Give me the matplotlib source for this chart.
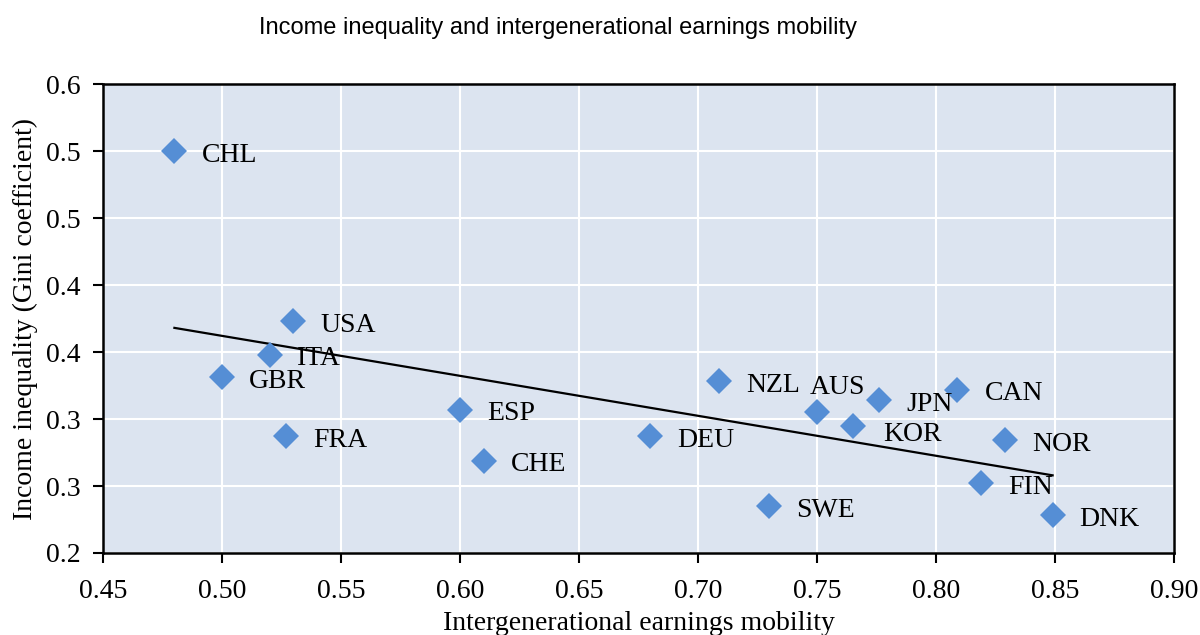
import numpy as np
import matplotlib.pyplot as plt
from matplotlib.ticker import FormatStrFormatter

countries = ['CHL', 'USA', 'ITA', 'GBR', 'FRA', 'ESP', 'CHE', 'DEU', 'NZL',
             'AUS', 'JPN', 'KOR', 'CAN', 'NOR', 'FIN', 'SWE', 'DNK']
mobility = [0.480, 0.530, 0.520, 0.500, 0.527, 0.600, 0.610, 0.680, 0.709,
            0.750, 0.776, 0.765, 0.809, 0.829, 0.819, 0.730, 0.849]
gini = [0.500, 0.373, 0.348, 0.331, 0.287, 0.307, 0.269, 0.287, 0.328,
        0.305, 0.314, 0.295, 0.322, 0.284, 0.252, 0.235, 0.228]
# y tick labels as printed on the original (one decimal, rounded half up)
ytick_labels = ['0.2', '0.3', '0.3', '0.4', '0.4', '0.5', '0.5', '0.6']

x = np.array(mobility)
y = np.array(gini)

serif = ['Liberation Serif', 'DejaVu Serif']
sans = ['Liberation Sans', 'DejaVu Sans']

# label offsets in pixels (right of the marker, a bit lower); a couple are nudged
label_off = {'AUS': (-7, 25), 'KOR': (31, -9)}

fig = plt.figure(figsize=(12, 6.35), dpi=100)
ax = fig.add_axes([103 / 1200, 1 - 553 / 635, 1071 / 1200, 469 / 635])
ax.set_facecolor('#DCE4F0')

# linear trend across the sample
slope, icpt = np.polyfit(x, y, 1)
xs = np.array([x.min(), x.max()])
ax.plot(xs, slope * xs + icpt, color='black', lw=1.6, zorder=3)

ax.plot(x, y, 'D', color='#558ED5', markersize=13, markeredgewidth=0, zorder=4)
for c, xi, yi in zip(countries, x, y):
    ax.annotate(c, (xi, yi), xytext=label_off.get(c, (27, -4)), textcoords='offset pixels',
                va='center', ha='left', fontsize=20, family=serif, zorder=5)

ax.set_xlim(0.45, 0.90)
ax.set_ylim(0.2, 0.55)
ax.set_xticks(np.arange(0.45, 0.901, 0.05))
ax.set_yticks(np.arange(0.2, 0.551, 0.05))
ax.set_yticklabels(ytick_labels)
ax.xaxis.set_major_formatter(FormatStrFormatter('%.2f'))
ax.grid(True, color='white', lw=1.5)
ax.set_axisbelow(True)
for s in ax.spines.values():
    s.set_linewidth(1.8)
    s.set_color('black')
ax.tick_params(direction='out', length=7, width=1.5, labelsize=20)
ax.tick_params(axis='x', pad=12)
ax.tick_params(axis='y', pad=9)
for lab in ax.get_xticklabels() + ax.get_yticklabels():
    lab.set_family(serif)

ax.set_xlabel('Intergenerational earnings mobility', fontsize=20, family=serif, labelpad=5)
ax.set_ylabel('Income inequality (Gini coefficient)', fontsize=20, family=serif, labelpad=6)
fig.text(558 / 1200, 1 - 28 / 635, 'Income inequality and intergenerational earnings mobility',
         ha='center', va='center', fontsize=17, family=sans)

fig.savefig('out.png', dpi=100)
